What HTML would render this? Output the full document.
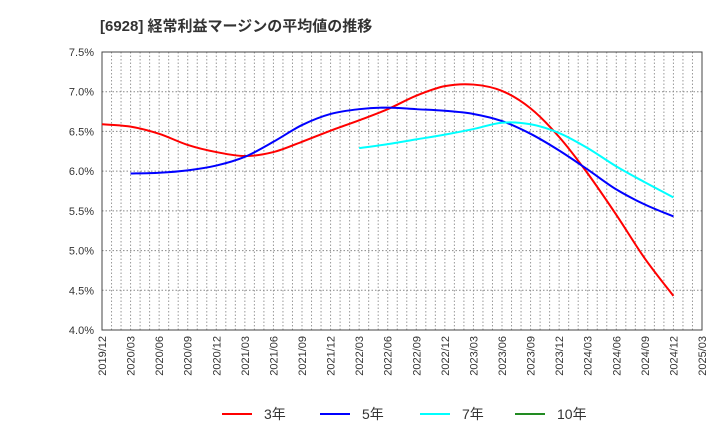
<!DOCTYPE html>
<html><head><meta charset="utf-8"><style>
body{margin:0;background:#fff;font-family:"Liberation Sans","Noto Sans CJK JP",sans-serif;}
</style></head><body>
<svg width="720" height="440" xmlns="http://www.w3.org/2000/svg">
<text x="100" y="31" font-size="15" font-weight="bold" fill="#333">[6928]  経常利益マージンの平均値の推移</text>
<g id="grid"></g><g id="axes"></g><g id="series"></g><g id="legend"></g>
</svg>
<script>
const xLabels=["2019/12","2020/03","2020/06","2020/09","2020/12","2021/03","2021/06","2021/09","2021/12","2022/03","2022/06","2022/09","2022/12","2023/03","2023/06","2023/09","2023/12","2024/03","2024/06","2024/09","2024/12","2025/03"];
const yTicks=[4.0,4.5,5.0,5.5,6.0,6.5,7.0,7.5];
const s3=[6.59,6.56,6.47,6.33,6.24,6.19,6.24,6.37,6.51,6.64,6.78,6.95,7.07,7.09,7.01,6.79,6.43,5.97,5.45,4.90,4.43];
const s3Start=0;
const s5=[5.97,5.98,6.01,6.07,6.18,6.37,6.58,6.72,6.78,6.80,6.78,6.76,6.72,6.63,6.47,6.26,6.02,5.77,5.58,5.43];
const s5Start=1;
const s7=[6.29,6.34,6.40,6.46,6.53,6.61,6.59,6.48,6.29,6.06,5.86,5.67];
const s7Start=9;
const s10=[];
const s10Start=0;
const NS="http://www.w3.org/2000/svg";
const X0=102,X1=702,Y0=330,Y1=52;
const xq=i=>X0+i*(X1-X0)/(xLabels.length-1);
const ym=v=>Y0-(v-4.0)/(7.5-4.0)*(Y0-Y1);
function mk(t,a,p){const e=document.createElementNS(NS,t);for(const k in a)e.setAttribute(k,a[k]);p.appendChild(e);return e;}
const grid=document.getElementById('grid'),axes=document.getElementById('axes'),ser=document.getElementById('series'),leg=document.getElementById('legend');
const months=(xLabels.length-1)*3;
for(let m=1;m<months;m++){const x=X0+m*(X1-X0)/months;
const l=mk('line',{x1:x,x2:x,y1:Y1,y2:Y0,stroke:'#999','stroke-dasharray':'1.5,2','stroke-width':1},grid);

}
yTicks.forEach(v=>{const y=ym(v);
const l=mk('line',{x1:X0,x2:X1,y1:y,y2:y,stroke:'#888','stroke-dasharray':'1.5,2','stroke-width':1},grid);


const t=mk('text',{x:X0-8,y:y+4,'text-anchor':'end','font-size':11,fill:'#333'},axes);t.textContent=v.toFixed(1)+'%';

});
xLabels.forEach((s,i)=>{const x=xq(i);
const t=mk('text',{transform:`translate(${x+4},${Y0+6}) rotate(-90)`,'text-anchor':'end','font-size':11,fill:'#333'},axes);t.textContent=s;

});
const fr=mk('rect',{x:X0,y:Y1,width:X1-X0,height:Y0-Y1,fill:'none',stroke:'#444','stroke-width':1},axes);


function path(vals,start){const p=vals.map((v,i)=>[xq(start+i),ym(v)]);if(p.length<2)return '';
let d=`M${p[0][0]},${p[0][1]}`;
for(let i=0;i<p.length-1;i++){const a=p[i-1]||p[i],b=p[i],c=p[i+1],e=p[i+2]||c;
d+=` C${b[0]+(c[0]-a[0])/6},${b[1]+(c[1]-a[1])/6} ${c[0]-(e[0]-b[0])/6},${c[1]-(e[1]-b[1])/6} ${c[0]},${c[1]}`;}return d;}
[[s3,s3Start,'#ff0000','series-3yr'],[s5,s5Start,'#0000ff','series-5yr'],[s7,s7Start,'#00ffff','series-7yr'],[s10,s10Start,'#228b22','series-10yr']].forEach(([v,s,c,n])=>{
if(!v.length)return;const e=mk('path',{d:path(v,s),fill:'none',stroke:c,'stroke-width':2},ser);

});
[['3年','#ff0000',222],['5年','#0000ff',320],['7年','#00ffff',420],['10年','#228b22',515]].forEach(([t,c,x])=>{
const g=mk('g',{},leg);


mk('line',{x1:x,x2:x+30,y1:414,y2:414,stroke:c,'stroke-width':2},g);
const tx=mk('text',{x:x+42,y:419,'font-size':14,fill:'#333'},g);tx.textContent=t;});
</script>
</body></html>
